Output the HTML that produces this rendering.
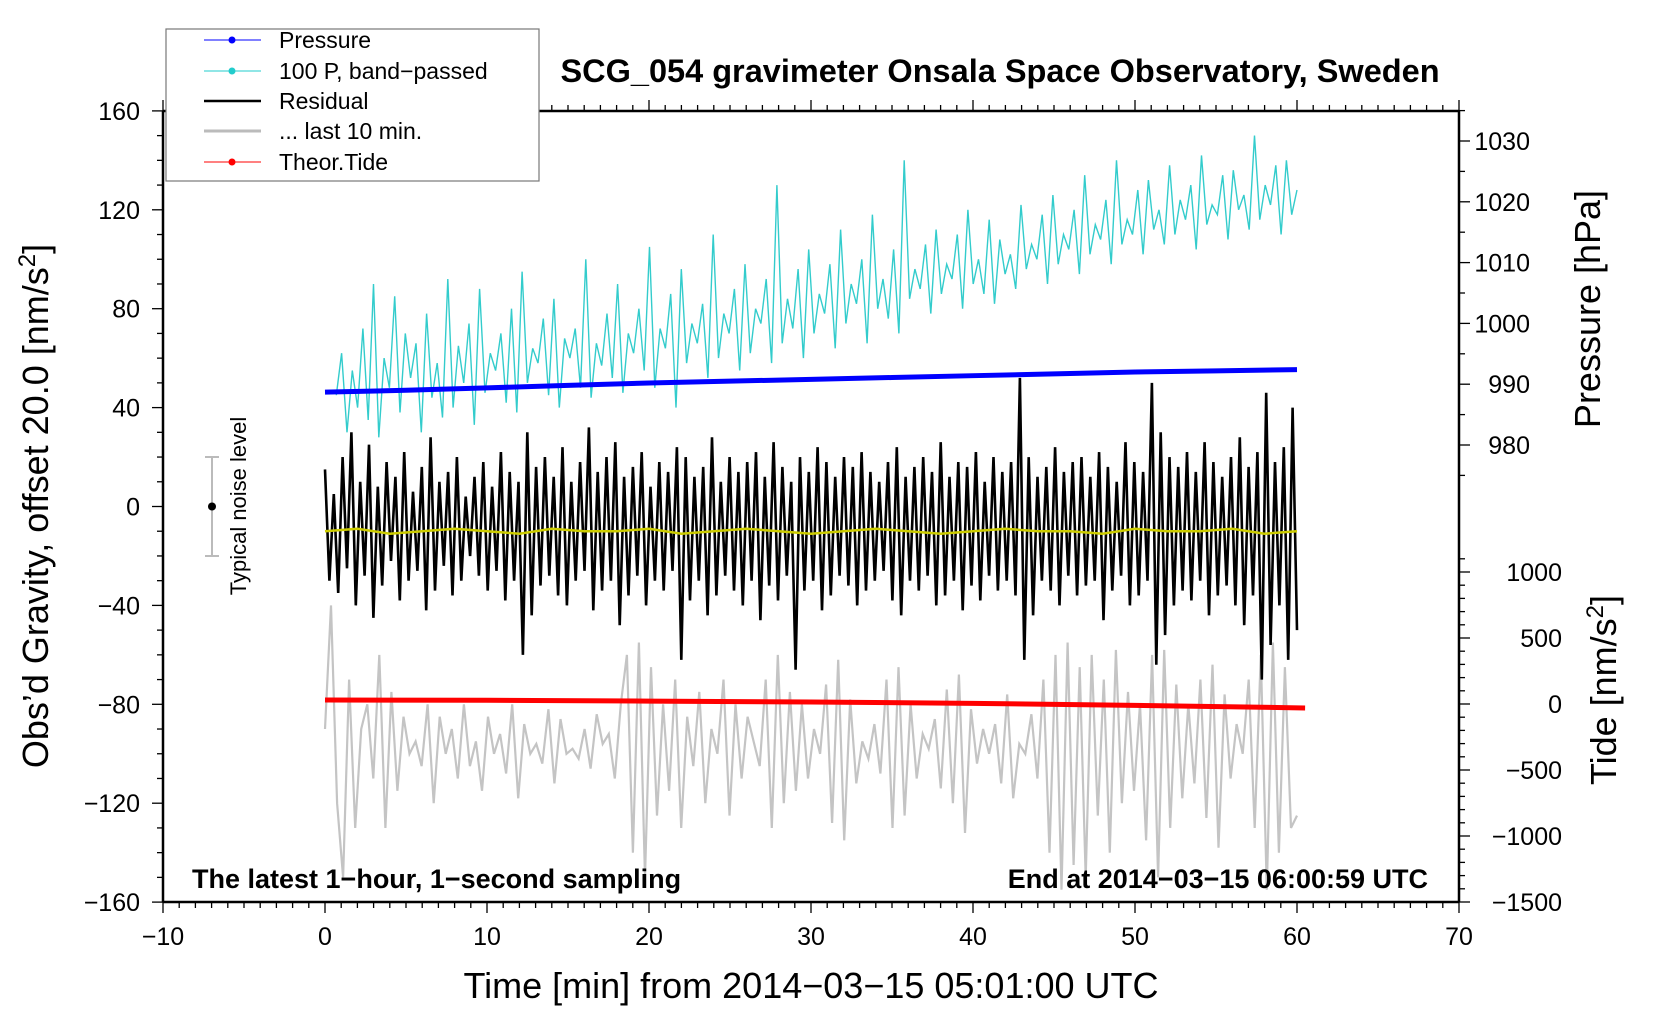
<!DOCTYPE html>
<html><head><meta charset="utf-8"><style>
html,body{margin:0;padding:0;background:#fff}
svg{display:block;font-family:"Liberation Sans",sans-serif}
</style></head><body>
<svg id="chart" width="1660" height="1020" viewBox="0 0 1660 1020">
<g id="marks"></g>
<g id="axes"></g>
<text x="1000" y="82" font-size="32.5" font-weight="bold" text-anchor="middle">SCG_054 gravimeter Onsala Space Observatory, Sweden</text>
<text x="192" y="888" font-size="27" font-weight="bold">The latest 1−hour, 1−second sampling</text>
<text x="1428" y="888" font-size="27" font-weight="bold" text-anchor="end">End at 2014−03−15 06:00:59 UTC</text>
<text x="811" y="998" font-size="36" text-anchor="middle">Time [min] from 2014−03−15 05:01:00 UTC</text>
<text transform="translate(48,506) rotate(-90)" font-size="36" text-anchor="middle">Obs’d Gravity, offset 20.0 [nm/s<tspan dy="-13" font-size="24">2</tspan><tspan dy="13">]</tspan></text>
<text transform="translate(1600,309) rotate(-90)" font-size="36" text-anchor="middle">Pressure [hPa]</text>
<text transform="translate(1616,690) rotate(-90)" font-size="36" text-anchor="middle">Tide [nm/s<tspan dy="-13" font-size="24">2</tspan><tspan dy="13">]</tspan></text>
<g>
<line x1="212" y1="457" x2="212" y2="556" stroke="#bbb" stroke-width="2"/>
<line x1="205" y1="457" x2="219" y2="457" stroke="#bbb" stroke-width="2"/>
<line x1="205" y1="556" x2="219" y2="556" stroke="#bbb" stroke-width="2"/>
<circle cx="212" cy="506.5" r="4" fill="#000"/>
<text transform="translate(246,506) rotate(-90)" font-size="22" text-anchor="middle">Typical noise level</text>
</g>
<g>
<rect x="166" y="29" width="373" height="152" fill="#fff" stroke="#777" stroke-width="1.2"/>
<g><line x1="204" y1="40" x2="261" y2="40" stroke="#00f" stroke-width="1"/><circle cx="232" cy="40" r="3.5" fill="#00f"/><text x="279" y="48" font-size="23">Pressure</text></g>
<g><line x1="204" y1="71" x2="261" y2="71" stroke="#2cc" stroke-width="1"/><circle cx="232" cy="71" r="3.5" fill="#2cc"/><text x="279" y="79" font-size="23">100 P, band−passed</text></g>
<g><line x1="204" y1="101" x2="261" y2="101" stroke="#000" stroke-width="2.5"/><text x="279" y="109" font-size="23">Residual</text></g>
<g><line x1="204" y1="131" x2="261" y2="131" stroke="#bbb" stroke-width="3"/><text x="279" y="139" font-size="23">... last 10 min.</text></g>
<g><line x1="204" y1="162" x2="261" y2="162" stroke="#f00" stroke-width="1"/><circle cx="232" cy="162" r="3.5" fill="#f00"/><text x="279" y="170" font-size="23">Theor.Tide</text></g>
</g>
<script>
const pressureTimes=[0,5,10,15,20,25,30,35,40,45,50,55,60];
const pressureValues=[988.7,989.0,989.4,989.8,990.2,990.5,990.8,991.1,991.4,991.7,992.0,992.2,992.4];
const tideTimes=[0,10,20,30,40,50,60.5];
const tideValues=[30,28,22,15,5,-10,-30];
const bandStart=0.7, bandEnd=60;
const bandValues=[45,62,30,55,40,72,35,90,28,60,48,85,38,70,52,66,30,78,44,58,36,92,40,65,50,74,33,88,46,62,55,70,42,80,38,95,50,64,58,76,45,84,40,68,60,72,48,100,44,66,57,78,52,90,46,70,62,80,55,105,48,72,64,86,40,96,58,74,66,82,52,110,60,78,70,88,55,98,62,80,74,92,58,130,66,84,72,96,60,104,70,86,78,98,64,112,74,90,82,100,66,118,80,92,76,104,70,140,84,96,88,106,78,112,86,98,92,110,80,120,90,100,86,116,82,108,94,102,88,122,96,106,100,118,90,126,98,110,104,120,94,134,102,114,108,124,98,140,106,116,110,128,102,132,112,120,106,138,110,124,116,130,104,142,114,122,118,134,108,136,120,126,112,150,116,130,122,138,110,140,118,128];
const residualValues=[15,-30,5,-35,20,-25,30,-40,10,-28,25,-45,8,-32,18,-22,12,-38,22,-30,6,-26,16,-42,28,-34,10,-24,14,-36,20,-30,4,-20,12,-28,18,-34,8,-26,22,-38,14,-30,10,-60,30,-44,16,-32,20,-28,12,-36,24,-40,10,-30,18,-26,32,-42,14,-34,20,-30,26,-48,12,-36,16,-28,22,-40,8,-30,18,-34,14,-26,24,-62,20,-38,12,-30,16,-44,28,-36,10,-28,20,-34,14,-40,18,-30,22,-46,12,-32,26,-38,16,-28,10,-66,20,-34,14,-30,24,-42,18,-36,12,-28,20,-32,16,-40,22,-34,14,-30,10,-26,18,-38,24,-44,12,-30,16,-34,20,-28,14,-40,26,-36,12,-30,18,-42,16,-32,22,-38,10,-28,20,-34,14,-30,18,-36,52,-62,20,-44,12,-30,16,-34,24,-40,14,-28,18,-36,20,-32,12,-30,22,-46,16,-34,10,-28,26,-40,18,-36,14,-30,50,-64,30,-52,20,-40,16,-34,22,-38,14,-30,26,-44,18,-36,12,-32,20,-40,28,-48,16,-36,22,-70,46,-56,18,-40,24,-62,40,-50];
const meanValues=[-10,-9,-11,-10,-9,-10,-11,-9,-10,-10,-9,-11,-10,-9,-10,-11,-10,-9,-10,-11,-10,-9,-10,-10,-11,-9,-10,-10,-9,-11,-10];
const last10Values=[-90,-40,-120,-150,-70,-130,-90,-80,-110,-60,-130,-75,-115,-85,-100,-95,-105,-80,-120,-85,-100,-90,-110,-80,-105,-95,-115,-85,-100,-92,-108,-80,-118,-88,-100,-96,-104,-82,-112,-86,-100,-98,-102,-90,-106,-84,-96,-92,-110,-80,-60,-140,-55,-150,-65,-125,-80,-115,-70,-130,-85,-105,-75,-120,-90,-100,-70,-125,-80,-110,-85,-95,-105,-70,-130,-60,-120,-75,-115,-80,-110,-90,-100,-72,-128,-62,-135,-78,-112,-95,-102,-88,-108,-70,-130,-65,-125,-80,-110,-92,-98,-86,-114,-74,-120,-68,-132,-82,-104,-90,-100,-88,-112,-76,-118,-96,-100,-84,-110,-70,-140,-60,-155,-55,-145,-65,-150,-60,-125,-70,-140,-58,-120,-75,-115,-80,-135,-60,-150,-58,-130,-72,-118,-80,-112,-70,-126,-64,-138,-76,-110,-88,-100,-70,-130,-60,-155,-55,-140,-65,-130,-125];
const xTicks=[-10,0,10,20,30,40,50,60,70];
const yTicks=[-160,-120,-80,-40,0,40,80,120,160];
const pTicks=[980,990,1000,1010,1020,1030];
const tTicks=[-1500,-1000,-500,0,500,1000];

const NS='http://www.w3.org/2000/svg';
const X=t=>325+t*16.2;
const Yg=v=>506.5-v*2.4725;
const Yp=p=>445-(p-980)*6.08;
const Yt=v=>704-v*0.132;
const marks=document.getElementById('marks'), axes=document.getElementById('axes');
function mk(tag,attrs,parent){const e=document.createElementNS(NS,tag);for(const k in attrs)e.setAttribute(k,attrs[k]);parent.appendChild(e);return e;}
function series(vals,t0,t1,ys){const n=vals.length;return vals.map((v,i)=>X(t0+(t1-t0)*i/(n-1)).toFixed(1)+','+ys(v).toFixed(1)).join(' ');}

let e;
e=mk('polyline',{points:series(last10Values,0,60,Yg),fill:'none',stroke:'#c4c4c4','stroke-width':2.2},marks);


e=mk('polyline',{points:series(bandValues,bandStart,bandEnd,Yg),fill:'none',stroke:'#3cc','stroke-width':1.4},marks);


e=mk('polyline',{points:series(residualValues,0,60,Yg),fill:'none',stroke:'#000','stroke-width':2.6,'stroke-linejoin':'bevel'},marks);


e=mk('polyline',{points:series(meanValues,0,60,Yg),fill:'none',stroke:'#cc0','stroke-width':2.5},marks);


e=mk('polyline',{points:pressureTimes.map((t,i)=>X(t)+','+Yp(pressureValues[i])).join(' '),fill:'none',stroke:'#00f','stroke-width':5},marks);


e=mk('polyline',{points:tideTimes.map((t,i)=>X(t)+','+Yt(tideValues[i])).join(' '),fill:'none',stroke:'#f00','stroke-width':5},marks);



mk('line',{x1:163,y1:902,x2:1459,y2:902,stroke:'#000','stroke-width':2.5},axes);
mk('line',{x1:163,y1:111,x2:1459,y2:111,stroke:'#000','stroke-width':2.5},axes);
mk('line',{x1:163,y1:111,x2:163,y2:902,stroke:'#000','stroke-width':2.5},axes);
mk('line',{x1:1459,y1:111,x2:1459,y2:902,stroke:'#000','stroke-width':2.5},axes);
for(let t=-10;t<=70;t++){const maj=t%10===0,L=maj?11:6;
 mk('line',{x1:X(t),y1:902,x2:X(t),y2:902+L,stroke:'#000','stroke-width':1.3},axes);
 mk('line',{x1:X(t),y1:111,x2:X(t),y2:111-L,stroke:'#000','stroke-width':1.3},axes);}
xTicks.forEach(t=>{e=mk('text',{x:X(t),y:945,'font-size':25,'text-anchor':'middle'},axes);e.textContent=String(t).replace('-','−');

});
for(let v=-160;v<=160;v+=10){const L=v%40===0?11:6;mk('line',{x1:163-L,y1:Yg(v),x2:163,y2:Yg(v),stroke:'#000','stroke-width':1.3},axes);}
yTicks.forEach(v=>{e=mk('text',{x:140,y:Yg(v)+9,'font-size':25,'text-anchor':'end'},axes);e.textContent=String(v).replace('-','−');

});
for(let p=975;p<=1035;p+=5){const L=p%10===0?11:6;mk('line',{x1:1459,y1:Yp(p),x2:1459+L,y2:Yp(p),stroke:'#000','stroke-width':1.3},axes);}
pTicks.forEach(p=>{e=mk('text',{x:1530,y:Yp(p)+9,'font-size':25,'text-anchor':'end'},axes);e.textContent=p;

});
for(let v=-1500;v<=1100;v+=100){const L=v%500===0?11:6;mk('line',{x1:1459,y1:Yt(v),x2:1459+L,y2:Yt(v),stroke:'#000','stroke-width':1.3},axes);}
tTicks.forEach(v=>{e=mk('text',{x:1562,y:Yt(v)+9,'font-size':25,'text-anchor':'end'},axes);e.textContent=String(v).replace('-','−');

});
</script>
</svg>
</body></html>
